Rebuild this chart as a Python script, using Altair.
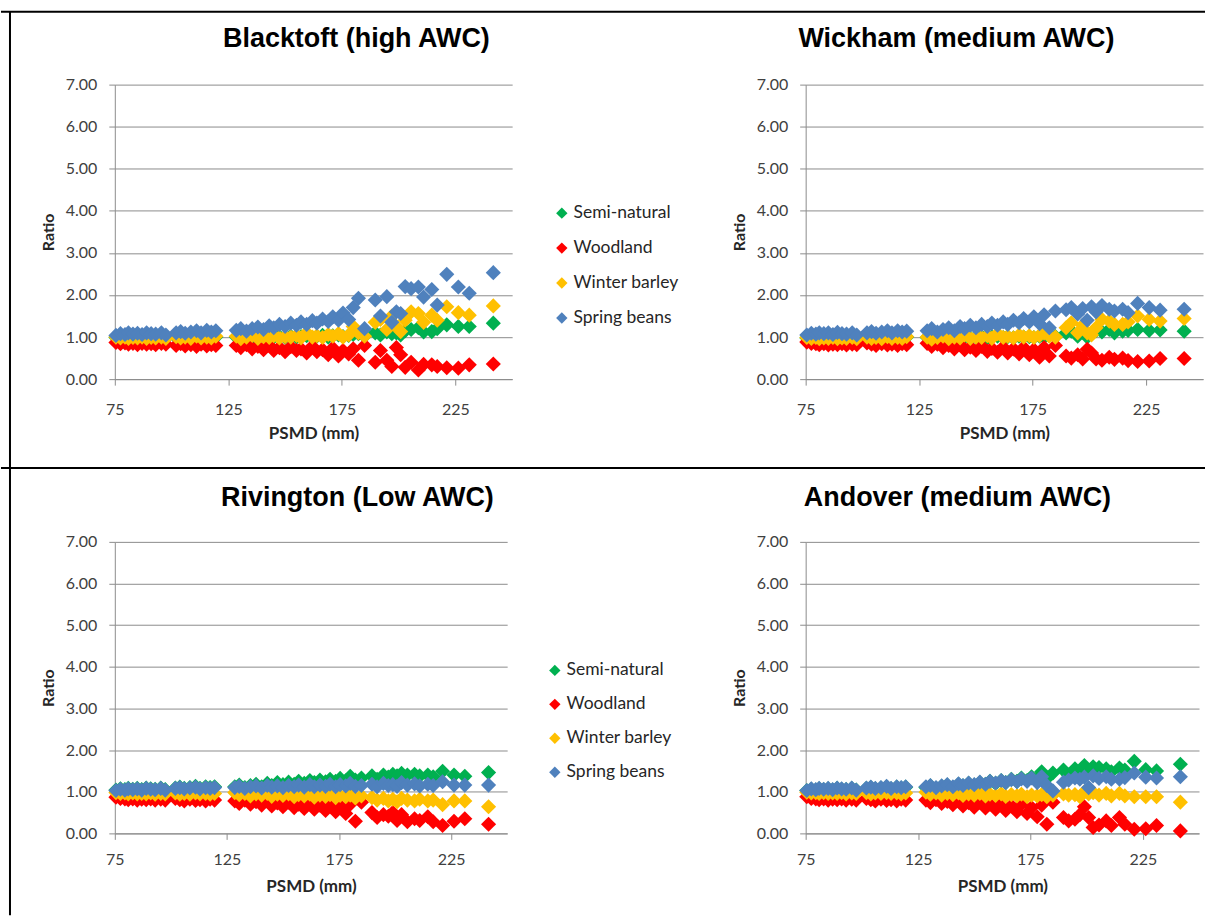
import altair as alt
import pandas as pd

# PSMD (mm) values shared by every site
psmd = [
    75.5, 77.5, 79.5, 81, 83, 85, 87, 89, 91, 93, 95.5, 97.5, 102, 104, 106, 108.5, 111, 113, 115.5, 117.5, 119.5,
    128.5, 130.5, 133, 135.5, 138, 140.5, 143, 145, 147.5, 150, 152.5, 155, 157, 159.5, 162, 164, 166.5, 169, 171,
    173.5, 175.5, 178, 180, 182.3, 185,
    189.7, 192, 194.8, 197, 199, 200.9, 202.9, 205.5, 208.7, 211, 214.6, 217, 221.2, 226.3, 231.1, 241.7,
]

series_names = ["Semi-natural", "Woodland", "Winter barley", "Spring beans"]
series_colors = ["#00B050", "#FF0000", "#FFC000", "#4F81BD"]

# Blacktoft (high AWC)
blacktoft_semi = [
    0.99, 0.98, 0.99, 0.98, 0.99, 0.98, 0.99, 0.98, 0.99, 0.98, 0.99, 0.98, 0.99, 0.99, 0.98, 0.99, 0.98, 0.99, 0.98, 0.99, 1.00,
    1.00, 0.98, 0.99, 1.00, 0.98, 1.01, 0.99, 1.00, 1.01, 0.99, 1.02, 1.00, 1.01, 1.03, 0.99, 1.02, 1.04, 1.00, 1.03, 1.05, 1.01, 1.04, 1.06, 1.08, 1.02,
    1.10, 1.05, 1.12, 1.08, 1.10, 1.05, 1.15, 1.18, 1.22, 1.12, 1.13, 1.20, 1.29, 1.25, 1.25, 1.33,
]
blacktoft_wood = [
    0.87, 0.84, 0.86, 0.83, 0.85, 0.82, 0.85, 0.83, 0.84, 0.82, 0.85, 0.83, 0.80, 0.84, 0.79, 0.82, 0.78, 0.83, 0.79, 0.82, 0.80,
    0.80, 0.75, 0.82, 0.72, 0.78, 0.70, 0.80, 0.68, 0.75, 0.65, 0.77, 0.68, 0.72, 0.62, 0.78, 0.65, 0.70, 0.58, 0.74, 0.55, 0.68, 0.60, 0.72, 0.45, 0.80,
    0.40, 0.68, 0.45, 0.30, 0.75, 0.58, 0.28, 0.40, 0.22, 0.35, 0.34, 0.30, 0.27, 0.26, 0.34, 0.36,
]
blacktoft_barley = [
    1.00, 0.98, 1.00, 0.97, 0.99, 0.98, 1.00, 0.97, 0.99, 0.98, 1.00, 0.97, 1.01, 0.98, 1.00, 0.97, 1.02, 0.98, 1.00, 0.98, 1.02,
    1.02, 0.96, 1.00, 1.04, 0.97, 1.01, 0.99, 1.03, 0.98, 1.01, 1.00, 1.04, 0.98, 1.10, 1.00, 1.03, 0.99, 1.06, 1.02, 1.08, 1.00, 1.05, 1.25, 1.10, 1.02,
    1.35, 1.42, 1.18, 1.50, 1.25, 1.13, 1.40, 1.60, 1.56, 1.35, 1.52, 1.40, 1.72, 1.58, 1.52, 1.74,
]
blacktoft_beans = [
    1.04, 1.08, 1.06, 1.10, 1.07, 1.09, 1.06, 1.10, 1.08, 1.07, 1.10, 1.05, 1.10, 1.13, 1.09, 1.12, 1.15, 1.10, 1.16, 1.12, 1.15,
    1.16, 1.20, 1.14, 1.20, 1.24, 1.18, 1.27, 1.22, 1.30, 1.25, 1.33, 1.28, 1.36, 1.30, 1.39, 1.33, 1.43, 1.37, 1.48, 1.40, 1.57, 1.42, 1.70, 1.92, 1.20,
    1.88, 1.50, 1.96, 1.35, 1.60, 1.56, 2.20, 2.15, 2.19, 1.95, 2.13, 1.76, 2.49, 2.19, 2.04, 2.53,
]

# Wickham (medium AWC)
wickham_semi = [
    0.98, 0.97, 0.98, 0.97, 0.98, 0.97, 0.98, 0.97, 0.98, 0.97, 0.98, 0.97, 0.98, 0.97, 0.98, 0.99, 0.97, 0.98, 0.99, 0.98, 1.00,
    0.99, 0.97, 0.98, 1.00, 0.97, 0.99, 0.98, 1.00, 0.98, 0.99, 1.01, 0.98, 1.00, 1.02, 0.99, 1.01, 0.98, 1.02, 1.00, 1.01, 0.99, 1.02, 1.00, 1.03, 1.01,
    1.10, 1.14, 1.02, 1.12, 1.00, 1.08, 1.15, 1.12, 1.18, 1.10, 1.14, 1.16, 1.18, 1.16, 1.17, 1.14,
]
wickham_wood = [
    0.88, 0.85, 0.84, 0.82, 0.84, 0.81, 0.83, 0.82, 0.84, 0.81, 0.83, 0.82, 0.86, 0.83, 0.80, 0.84, 0.81, 0.83, 0.80, 0.84, 0.82,
    0.85, 0.78, 0.83, 0.75, 0.80, 0.72, 0.82, 0.70, 0.76, 0.68, 0.78, 0.66, 0.73, 0.64, 0.76, 0.62, 0.72, 0.60, 0.75, 0.58, 0.70, 0.52, 0.75, 0.55, 0.80,
    0.55, 0.50, 0.58, 0.48, 0.71, 0.62, 0.48, 0.45, 0.52, 0.47, 0.50, 0.44, 0.42, 0.43, 0.49, 0.49,
]
wickham_barley = [
    0.99, 0.97, 0.99, 0.96, 0.98, 0.97, 0.99, 0.96, 0.98, 0.97, 0.99, 0.96, 1.00, 0.97, 0.99, 0.96, 1.01, 0.97, 0.99, 0.97, 1.01,
    1.00, 0.95, 0.99, 1.02, 0.96, 1.00, 0.98, 1.05, 0.97, 1.00, 0.99, 1.03, 0.97, 1.08, 0.99, 1.02, 0.98, 1.05, 1.00, 1.03, 0.99, 1.04, 1.10, 1.02, 1.00,
    1.22, 1.34, 1.10, 1.28, 1.10, 1.05, 1.22, 1.42, 1.38, 1.30, 1.30, 1.36, 1.50, 1.42, 1.38, 1.44,
]
wickham_beans = [
    1.05, 1.09, 1.07, 1.10, 1.08, 1.10, 1.06, 1.11, 1.08, 1.07, 1.10, 1.05, 1.10, 1.13, 1.09, 1.12, 1.15, 1.10, 1.15, 1.12, 1.14,
    1.15, 1.20, 1.12, 1.18, 1.22, 1.15, 1.25, 1.20, 1.28, 1.22, 1.30, 1.25, 1.33, 1.28, 1.36, 1.30, 1.40, 1.34, 1.44, 1.36, 1.48, 1.32, 1.53, 1.22, 1.62,
    1.65, 1.70, 1.55, 1.68, 1.40, 1.72, 1.60, 1.75, 1.66, 1.62, 1.66, 1.58, 1.80, 1.70, 1.64, 1.66,
]

# Rivington (Low AWC)
rivington_semi = [
    1.04, 1.07, 1.05, 1.08, 1.06, 1.08, 1.05, 1.09, 1.07, 1.06, 1.09, 1.05, 1.09, 1.11, 1.08, 1.10, 1.13, 1.08, 1.12, 1.10, 1.12,
    1.12, 1.16, 1.10, 1.15, 1.18, 1.12, 1.20, 1.15, 1.22, 1.17, 1.23, 1.18, 1.25, 1.20, 1.27, 1.22, 1.28, 1.24, 1.30, 1.25, 1.32, 1.26, 1.37, 1.28, 1.33,
    1.38, 1.30, 1.40, 1.35, 1.42, 1.38, 1.44, 1.40, 1.42, 1.38, 1.40, 1.36, 1.49, 1.40, 1.37, 1.46,
]
rivington_wood = [
    0.87, 0.84, 0.83, 0.81, 0.83, 0.80, 0.82, 0.81, 0.83, 0.80, 0.82, 0.80, 0.84, 0.81, 0.78, 0.82, 0.79, 0.81, 0.78, 0.82, 0.80,
    0.78, 0.72, 0.80, 0.70, 0.76, 0.68, 0.78, 0.66, 0.73, 0.64, 0.75, 0.62, 0.70, 0.60, 0.73, 0.58, 0.68, 0.55, 0.72, 0.52, 0.66, 0.48, 0.70, 0.29, 0.75,
    0.50, 0.38, 0.45, 0.41, 0.50, 0.31, 0.45, 0.28, 0.35, 0.31, 0.40, 0.28, 0.19, 0.29, 0.35, 0.22,
]
rivington_barley = [
    0.98, 0.96, 0.97, 0.95, 0.97, 0.95, 0.96, 0.95, 0.97, 0.94, 0.96, 0.95, 0.97, 0.94, 0.96, 0.94, 0.97, 0.95, 0.96, 0.94, 0.96,
    0.98, 0.93, 0.96, 0.90, 0.95, 0.92, 0.96, 0.89, 0.94, 0.91, 0.95, 0.88, 0.93, 0.90, 0.94, 0.87, 0.92, 0.89, 0.93, 0.86, 0.91, 0.88, 0.92, 0.85, 0.90,
    0.86, 0.80, 0.84, 0.78, 0.82, 0.76, 0.84, 0.80, 0.78, 0.82, 0.78, 0.80, 0.69, 0.78, 0.78, 0.64,
]
rivington_beans = [
    1.03, 1.06, 1.04, 1.07, 1.05, 1.07, 1.04, 1.08, 1.06, 1.05, 1.08, 1.04, 1.08, 1.10, 1.07, 1.09, 1.11, 1.07, 1.10, 1.08, 1.10,
    1.10, 1.13, 1.08, 1.12, 1.14, 1.09, 1.15, 1.11, 1.14, 1.10, 1.15, 1.12, 1.16, 1.11, 1.17, 1.12, 1.16, 1.13, 1.18, 1.12, 1.17, 1.14, 1.20, 1.13, 1.15,
    1.18, 1.12, 1.20, 1.15, 1.17, 1.13, 1.22, 1.16, 1.19, 1.14, 1.18, 1.15, 1.24, 1.16, 1.16, 1.16,
]

# Andover (medium AWC)
andover_semi = [
    1.03, 1.06, 1.04, 1.07, 1.05, 1.07, 1.04, 1.08, 1.06, 1.05, 1.08, 1.04, 1.08, 1.10, 1.07, 1.09, 1.12, 1.07, 1.11, 1.09, 1.11,
    1.10, 1.14, 1.08, 1.13, 1.16, 1.10, 1.18, 1.14, 1.20, 1.16, 1.22, 1.18, 1.25, 1.20, 1.27, 1.22, 1.30, 1.25, 1.33, 1.27, 1.36, 1.30, 1.48, 1.32, 1.45,
    1.52, 1.40, 1.55, 1.45, 1.63, 1.50, 1.60, 1.58, 1.55, 1.48, 1.57, 1.52, 1.73, 1.53, 1.50, 1.66,
]
andover_wood = [
    0.88, 0.84, 0.83, 0.81, 0.83, 0.80, 0.82, 0.81, 0.83, 0.80, 0.82, 0.80, 0.84, 0.81, 0.78, 0.82, 0.79, 0.81, 0.78, 0.82, 0.80,
    0.80, 0.74, 0.81, 0.72, 0.77, 0.69, 0.78, 0.66, 0.74, 0.63, 0.75, 0.61, 0.70, 0.58, 0.72, 0.55, 0.66, 0.52, 0.70, 0.48, 0.62, 0.40, 0.68, 0.22, 0.75,
    0.38, 0.30, 0.34, 0.45, 0.64, 0.38, 0.14, 0.20, 0.30, 0.19, 0.38, 0.22, 0.10, 0.11, 0.19, 0.06,
]
andover_barley = [
    0.99, 0.97, 0.98, 0.96, 0.98, 0.96, 0.97, 0.96, 0.98, 0.95, 0.97, 0.96, 0.98, 0.95, 0.97, 0.96, 0.98, 0.96, 0.97, 0.95, 0.97,
    0.99, 0.94, 0.97, 0.92, 0.96, 0.93, 0.97, 0.91, 0.95, 0.92, 0.96, 0.90, 0.94, 0.91, 0.95, 0.89, 0.93, 0.90, 0.94, 0.88, 0.92, 0.90, 0.93, 0.88, 0.92,
    0.95, 0.92, 0.93, 0.88, 1.00, 0.95, 0.98, 0.92, 0.96, 0.90, 0.96, 0.90, 0.88, 0.88, 0.88, 0.75,
]
andover_beans = [
    1.03, 1.07, 1.05, 1.08, 1.06, 1.08, 1.05, 1.09, 1.07, 1.06, 1.09, 1.04, 1.09, 1.11, 1.08, 1.10, 1.13, 1.08, 1.12, 1.10, 1.12,
    1.12, 1.15, 1.10, 1.14, 1.17, 1.12, 1.19, 1.15, 1.21, 1.17, 1.23, 1.18, 1.25, 1.21, 1.27, 1.22, 1.29, 1.24, 1.31, 1.25, 1.33, 1.22, 1.36, 1.15, 1.02,
    1.23, 1.28, 1.33, 1.30, 1.35, 1.10, 1.38, 1.32, 1.36, 1.30, 1.30, 1.34, 1.45, 1.35, 1.33, 1.36,
]

x_ticks = [75, 125, 175, 225]
y_ticks = [0, 1, 2, 3, 4, 5, 6, 7]

LABEL_FONT = "Lato"
TITLE_FONT = "Liberation Sans"
GRID = "#8c8c8c"


def site_table(values):
    rows = []
    for name, series in zip(series_names, values):
        for x, y in zip(psmd, series):
            rows.append({"PSMD": x, "Ratio": y, "Series": name})
    return pd.DataFrame(rows)


def blank():
    return alt.Data(values=[{}])


def panel(values, title, title_x, title_y, width, height, x_label_pad, x_title_pad,
          legend_x=None, legend_row_pad=16, extras=()):
    if legend_x is not None:
        legend = alt.Legend(
            orient="none", legendX=legend_x, legendY=120, title=None, padding=0,
            labelFont=LABEL_FONT, labelFontSize=17.5, labelColor="#262626",
            symbolType="diamond", symbolSize=130, symbolStrokeWidth=0,
            rowPadding=legend_row_pad, labelOffset=3,
        )
    else:
        legend = None

    points = alt.Chart(site_table(values)).mark_point(
        shape="diamond", filled=True, size=230, opacity=1, strokeWidth=0
    ).encode(
        x=alt.X(
            "PSMD:Q",
            scale=alt.Scale(domain=[75, 250], nice=False, zero=False),
            axis=alt.Axis(
                values=x_ticks, title="PSMD (mm)", grid=False,
                domainColor=GRID, tickColor=GRID, tickSize=6,
                labelFont=LABEL_FONT, labelFontSize=16, labelColor="#404040",
                labelPadding=x_label_pad, labelFlush=False,
                titleFont=LABEL_FONT, titleFontSize=17, titleFontWeight="bold",
                titleColor="#262626", titlePadding=x_title_pad,
            ),
        ),
        y=alt.Y(
            "Ratio:Q",
            scale=alt.Scale(domain=[0, 7], nice=False),
            axis=alt.Axis(
                values=y_ticks, format=".2f", title="Ratio", grid=True,
                gridColor=GRID, gridWidth=1, domainColor=GRID, tickColor=GRID,
                tickSize=6, labelFont=LABEL_FONT, labelFontSize=16,
                labelColor="#404040", labelPadding=12, labelFlush=False,
                titleFont=LABEL_FONT, titleFontSize=16, titleFontWeight="bold",
                titleColor="#262626", titlePadding=9,
            ),
        ),
        color=alt.Color(
            "Series:N",
            scale=alt.Scale(domain=series_names, range=series_colors),
            legend=legend,
        ),
    )

    heading = alt.Chart(blank()).mark_text(
        text=title, font=TITLE_FONT, fontSize=27, fontWeight="bold",
        color="black", align="center", baseline="alphabetic",
    ).encode(x=alt.value(title_x), y=alt.value(title_y))

    return alt.layer(points, heading, *extras).properties(width=width, height=height)


# outer frame lines of the figure
frame_top = alt.Chart(blank()).mark_rule(color="black", strokeWidth=2).encode(
    x=alt.value(-114), x2=alt.value(1092), y=alt.value(-73)
)
frame_left = alt.Chart(blank()).mark_rule(color="black", strokeWidth=2).encode(
    x=alt.value(-105), y=alt.value(-73), y2=alt.value(832)
)
frame_mid = alt.Chart(blank()).mark_rule(color="black", strokeWidth=2).encode(
    x=alt.value(-114), x2=alt.value(1092), y=alt.value(384)
)

blacktoft = panel(
    [blacktoft_semi, blacktoft_wood, blacktoft_barley, blacktoft_beans],
    "Blacktoft (high AWC)", 242, -38, 398, 295, 16, 8, legend_x=439,
    extras=(frame_top, frame_left, frame_mid),
)
wickham = panel(
    [wickham_semi, wickham_wood, wickham_barley, wickham_beans],
    "Wickham (medium AWC)", 151, -38, 398, 295, 16, 8,
)
rivington = panel(
    [rivington_semi, rivington_wood, rivington_barley, rivington_beans],
    "Rivington (Low AWC)", 243, -36, 393, 292, 12, 11, legend_x=432, legend_row_pad=15,
)
andover = panel(
    [andover_semi, andover_wood, andover_barley, andover_beans],
    "Andover (medium AWC)", 152, -36, 394, 292, 12, 11,
)

top_row = alt.hconcat(blacktoft, wickham, spacing=294, bounds="flush").resolve_scale(color="independent")
bottom_row = alt.hconcat(rivington, andover, spacing=299, bounds="flush").resolve_scale(color="independent")

# the rows report no height of their own under flush bounds, so the spacing
# carries the top row's plot height as well as the gap between rows
chart = alt.vconcat(top_row, bottom_row, spacing=458, bounds="flush").resolve_scale(
    color="independent"
).properties(
    padding={"left": 0, "top": 10, "right": 0, "bottom": 0},
    background="white",
).configure_view(stroke=None)

chart.save("out.html", embed_options={"renderer": "svg", "actions": False})
